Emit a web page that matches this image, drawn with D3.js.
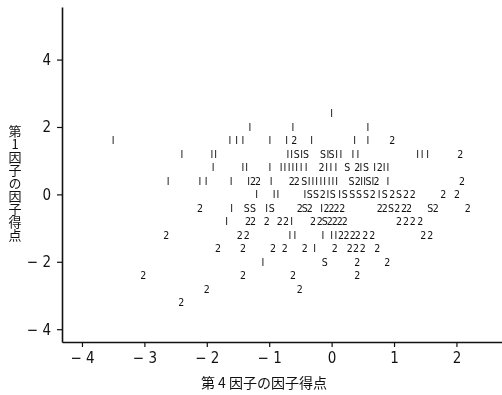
<!DOCTYPE html>
<html>
<head>
<meta charset="utf-8">
<script src="https://cdn.jsdelivr.net/npm/d3@7"></script>
<style>
  body { margin: 0; background: #fff; }
  #chart { filter: grayscale(1); }
  text { fill: #111; }
</style>
</head>
<body>
<svg id="chart" width="502" height="395"></svg>
<script>
// tick values
const xTicks = [-4, -3, -2, -1, 0, 1, 2];
const yTicks = [-4, -2, 0, 2, 4];

// one observation ("I" mark): [factor 4 score, factor 1 score]
const ones = [
  [0.00, 2.4],
  [-1.31, 2.0], [-0.62, 2.0], [0.58, 2.0],
  [-3.50, 1.6], [-1.63, 1.6], [-1.52, 1.6], [-1.42, 1.6], [-0.99, 1.6], [-0.72, 1.6], [-0.32, 1.6], [0.37, 1.6], [0.58, 1.6],
  [-2.40, 1.2], [-1.92, 1.2], [-1.86, 1.2], [-0.70, 1.2], [-0.64, 1.2], [-0.48, 1.2], [-0.06, 1.2], [0.08, 1.2], [0.15, 1.2],
  [0.34, 1.2], [0.42, 1.2], [1.38, 1.2], [1.45, 1.2], [1.54, 1.2],
  [-1.90, 0.8], [-1.42, 0.8], [-1.36, 0.8], [-0.99, 0.8], [-0.81, 0.8], [-0.75, 0.8], [-0.68, 0.8], [-0.62, 0.8], [-0.56, 0.8],
  [-0.49, 0.8], [-0.41, 0.8], [-0.08, 0.8], [-0.01, 0.8], [0.07, 0.8], [0.47, 0.8], [0.69, 0.8], [0.84, 0.8], [0.90, 0.8],
  [-2.62, 0.4], [-2.11, 0.4], [-2.01, 0.4], [-1.61, 0.4], [-1.33, 0.4], [-0.97, 0.4], [-0.36, 0.4], [-0.30, 0.4], [-0.24, 0.4],
  [-0.17, 0.4], [-0.11, 0.4], [-0.04, 0.4], [0.02, 0.4], [0.08, 0.4], [0.48, 0.4], [0.53, 0.4], [0.66, 0.4], [0.90, 0.4],
  [-1.20, 0.0], [-0.92, 0.0], [-0.86, 0.0], [-0.43, 0.0], [-0.06, 0.0], [0.13, 0.0], [0.76, 0.0],
  [-1.60, -0.4], [-1.04, -0.4], [-0.16, -0.4],
  [-1.68, -0.8], [-0.64, -0.8],
  [-0.67, -1.2], [-0.59, -1.2], [-0.14, -1.2], [0.00, -1.2], [0.07, -1.2],
  [-0.27, -1.6],
  [-1.10, -2.0]
];

// two observations ("2" mark)
const twos = [
  [-0.60, 1.6], [0.97, 1.6],
  [2.06, 1.2],
  [-0.16, 0.8], [0.41, 0.8], [0.77, 0.8],
  [-1.26, 0.4], [-1.18, 0.4], [-0.64, 0.4], [-0.56, 0.4], [0.42, 0.4], [0.72, 0.4], [2.09, 0.4],
  [-0.14, 0.0], [0.66, 0.0], [0.97, 0.0], [1.19, 0.0], [1.30, 0.0], [1.79, 0.0], [2.01, 0.0],
  [-2.11, -0.4], [-0.51, -0.4], [-0.35, -0.4], [-0.08, -0.4], [0.00, -0.4], [0.08, -0.4], [0.17, -0.4], [0.77, -0.4],
  [0.85, -0.4], [1.05, -0.4], [1.16, -0.4], [1.24, -0.4], [1.67, -0.4], [2.18, -0.4],
  [-1.34, -0.8], [-1.26, -0.8], [-1.04, -0.8], [-0.83, -0.8], [-0.73, -0.8], [-0.30, -0.8], [-0.19, -0.8], [-0.03, -0.8],
  [0.05, -0.8], [0.13, -0.8], [0.21, -0.8], [1.08, -0.8], [1.19, -0.8], [1.30, -0.8], [1.42, -0.8],
  [-2.65, -1.2], [-1.47, -1.2], [-1.36, -1.2], [0.15, -1.2], [0.24, -1.2], [0.34, -1.2], [0.42, -1.2], [0.54, -1.2],
  [0.65, -1.2], [1.47, -1.2], [1.58, -1.2],
  [-1.82, -1.6], [-1.42, -1.6], [-0.94, -1.6], [-0.75, -1.6], [-0.43, -1.6], [0.05, -1.6], [0.29, -1.6], [0.39, -1.6],
  [0.50, -1.6], [0.73, -1.6],
  [0.41, -2.0], [0.89, -2.0],
  [-3.02, -2.4], [-1.42, -2.4], [-0.62, -2.4], [0.41, -2.4],
  [-2.00, -2.8], [-0.51, -2.8],
  [-2.41, -3.2]
];

// several observations ("S" mark)
const many = [
  [-0.56, 1.2], [-0.41, 1.2], [-0.14, 1.2], [0.00, 1.2],
  [0.25, 0.8], [0.55, 0.8],
  [-0.44, 0.4], [0.32, 0.4], [0.59, 0.4],
  [-0.35, 0.0], [-0.25, 0.0], [0.02, 0.0], [0.21, 0.0], [0.33, 0.0], [0.44, 0.0], [0.55, 0.0], [0.85, 0.0], [1.08, 0.0],
  [-1.36, -0.4], [-1.26, -0.4], [-0.96, -0.4], [-0.43, -0.4], [0.95, -0.4], [1.58, -0.4],
  [-0.11, -0.8],
  [-0.11, -2.0]
];

const xTitle = "第 4 因子の因子得点";
const yTitle = "第1因子の因子得点";

const svg = d3.select("#chart");

const x = d3.scaleLinear().domain([-4.32, 2.73]).range([62, 502]);
const y = d3.scaleLinear().domain([-4.38, 5.56]).range([342, 7]);

const fmt = d => d < 0 ? "\u2212 " + (-d) : String(d);
const tickFont = "'Liberation Sans Narrow', 'DejaVu Sans Condensed', sans-serif";

// x axis
const gx = svg.append("g")
  .attr("transform", "translate(0,342)")
  .call(d3.axisBottom(x).tickValues(xTicks).tickSize(5).tickSizeOuter(0).tickPadding(5).tickFormat(fmt));

// y axis
const gy = svg.append("g")
  .attr("transform", "translate(62,0)")
  .call(d3.axisLeft(y).tickValues(yTicks).tickSize(5).tickSizeOuter(0).tickPadding(6).tickFormat(fmt));

[gx, gy].forEach(g => {
  g.select(".domain").attr("stroke", "#111").attr("stroke-width", 1.6);
  g.selectAll(".tick line").attr("stroke", "#111").attr("stroke-width", 1.2);
  g.selectAll(".tick text")
    .attr("fill", "#111")
    .style("font-family", tickFont)
    .style("font-size", "15px");
});

// point marks drawn as characters
const markFont = "'DejaVu Sans Condensed', 'DejaVu Sans', sans-serif";
function drawMarks(data, ch) {
  svg.append("g")
    .selectAll("text")
    .data(data)
    .join("text")
    .attr("x", d => x(d[0]))
    .attr("y", d => y(d[1]))
    .attr("dy", "0.36em")
    .attr("text-anchor", "middle")
    .style("font-family", markFont)
    .style("font-size", "10.5px")
    .text(ch);
}
drawMarks(ones, "I");
drawMarks(twos, "2");
drawMarks(many, "S");

// axis titles
svg.append("text")
  .attr("x", 264)
  .attr("y", 388)
  .attr("text-anchor", "middle")
  .style("font-family", "'Noto Sans CJK JP', sans-serif")
  .style("font-size", "14px")
  .text(xTitle);

svg.append("text")
  .attr("x", 15)
  .attr("y", 125)
  .style("writing-mode", "vertical-rl")
  .style("text-orientation", "upright")
  .style("font-family", "'Noto Sans CJK JP', sans-serif")
  .style("font-size", "13px")
  .text(yTitle);
</script>
</body>
</html>
